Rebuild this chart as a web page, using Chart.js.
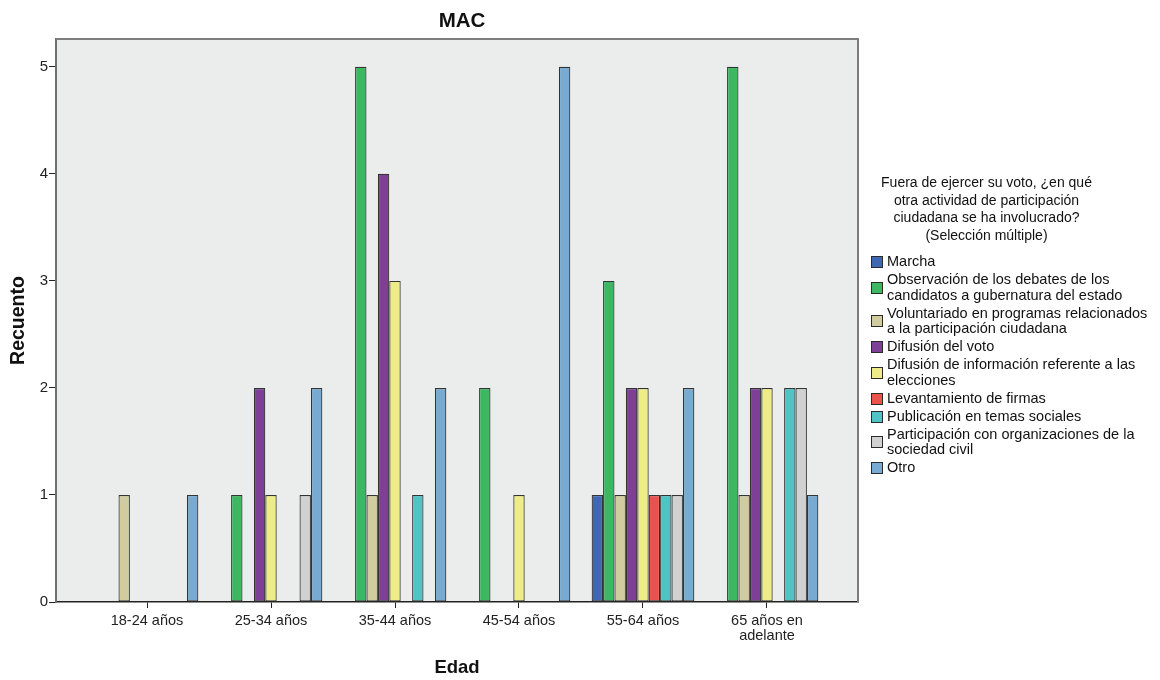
<!DOCTYPE html>
<html lang="es">
<head>
<meta charset="utf-8">
<script src="https://cdn.jsdelivr.net/npm/chart.js@4.4.1/dist/chart.umd.min.js"></script>
<style>
  body { margin: 0; background: #fff; font-family: "Liberation Sans", Arial, sans-serif; }
  #wrap { position: relative; width: 1160px; height: 680px; }
  #grafico { position: absolute; left: 0; top: 0; }
  .titulo { position: absolute; left: 362px; width: 200px; top: 7px; text-align: center; font-size: 20.5px; line-height: 25px; font-weight: bold; color: #111; }
  .leyenda { position: absolute; left: 868px; top: 174px; width: 290px; color: #111; }
  .leyenda-titulo { width: 237px; text-align: center; font-size: 14px; line-height: 17.6px; margin-bottom: 10px; }
  .item { display: flex; align-items: center; font-size: 14.5px; line-height: 15.5px; margin-bottom: 2.5px; }
  .cuadro { width: 10px; height: 10px; border: 1.5px solid #2a2a2a; margin: 0 4px 0 3px; flex: none; }
</style>
</head>
<body>
<div id="wrap">
  <canvas id="grafico" width="1160" height="680"></canvas>
  <div class="titulo">MAC</div>
  <div class="leyenda" id="leyenda">
    <div class="leyenda-titulo">Fuera de ejercer su voto, ¿en qué<br>otra actividad de participación<br>ciudadana se ha involucrado?<br>(Selección múltiple)</div>
  </div>
</div>
<script>
const edades = ["18-24 años", "25-34 años", "35-44 años", "45-54 años", "55-64 años", ["65 años en", "adelante"]];

const actividades = [
  "Marcha",
  "Observación de los debates de los\ncandidatos a gubernatura del estado",
  "Voluntariado en programas relacionados\na la participación ciudadana",
  "Difusión del voto",
  "Difusión de información referente a las\nelecciones",
  "Levantamiento de firmas",
  "Publicación en temas sociales",
  "Participación con organizaciones de la\nsociedad civil",
  "Otro"
];

const colores = ["#4067b1", "#3db761", "#d0cc9f", "#7e3f96", "#eeec86", "#e9534b", "#4ec5c4", "#d1d1d1", "#79aad1"];

// recuento por actividad, un valor por grupo de edad
const marcha = [0, 0, 0, 0, 1, 0];
const observacion = [0, 1, 5, 2, 3, 5];
const voluntariado = [1, 0, 1, 0, 1, 1];
const difusionVoto = [0, 2, 4, 0, 2, 2];
const difusionInfo = [0, 1, 3, 1, 2, 2];
const levantamiento = [0, 0, 0, 0, 1, 0];
const publicacion = [0, 0, 1, 0, 1, 2];
const participacion = [0, 1, 0, 0, 1, 2];
const otro = [1, 2, 2, 5, 2, 1];

const series = [marcha, observacion, voluntariado, difusionVoto, difusionInfo, levantamiento, publicacion, participacion, otro];
const yTicks = [0, 1, 2, 3, 4, 5];

const fuente = '"Liberation Sans", Arial, sans-serif';

// leyenda en HTML
const leyenda = document.getElementById("leyenda");
actividades.forEach((nombre, i) => {
  const item = document.createElement("div");
  item.className = "item";
  item.innerHTML = `<span class="cuadro" style="background:${colores[i]}"></span><span>${nombre.replace("\n", "<br>")}</span>`;
  leyenda.appendChild(item);
});

const fondoArea = {
  id: "fondoArea",
  beforeDraw(chart) {
    const { ctx, chartArea: a } = chart;
    ctx.save();
    ctx.fillStyle = "#ebedec";
    ctx.fillRect(a.left, a.top, a.right - a.left, a.bottom - a.top);
    ctx.restore();
  },
  afterDraw(chart) {
    const { ctx, chartArea: a } = chart;
    ctx.save();
    ctx.strokeStyle = "#7d7d7d";
    ctx.lineWidth = 2;
    ctx.beginPath();
    ctx.moveTo(a.left, a.top);
    ctx.lineTo(a.right, a.top);
    ctx.lineTo(a.right, a.bottom);
    ctx.stroke();
    ctx.restore();
  }
};

new Chart(document.getElementById("grafico"), {
  type: "bar",
  data: {
    datasets: series.map((valores, i) => ({
      label: actividades[i],
      data: valores.map((v, j) => ({ x: j, y: v })),
      backgroundColor: colores[i],
      borderColor: "#333",
      borderWidth: (c) => (c.raw && c.raw.y > 0 ? 1.2 : 0),
      borderSkipped: false,
      categoryPercentage: 0.828,
      barPercentage: 1
    }))
  },
  options: {
    responsive: false,
    animation: false,
    layout: { padding: { left: 0, right: 302, top: 39, bottom: 0 } },
    plugins: {
      legend: { display: false },
      tooltip: { enabled: false },
      title: { display: false }
    },
    scales: {
      x: {
        type: "linear",
        offset: false,
        min: -0.734,
        max: 5.734,
        afterBuildTicks: (s) => { s.ticks = edades.map((e, i) => ({ value: i })); },
        afterFit: (s) => { s.height = 78; },
        ticks: {
          autoSkip: false,
          maxRotation: 0,
          color: "#222",
          font: { family: fuente, size: 14.5, lineHeight: 1.05 },
          padding: 5,
          callback: (v) => edades[v]
        },
        grid: { offset: false, drawOnChartArea: false, drawTicks: true, tickLength: 6, color: "#222" },
        border: { display: true, color: "#222", width: 1.5 },
        title: {
          display: true,
          text: "Edad",
          color: "#111",
          font: { family: fuente, size: 18.5, weight: "bold" },
          padding: { top: 0, bottom: 1 }
        }
      },
      y: {
        min: 0,
        max: 5.26,
        afterBuildTicks: (s) => { s.ticks = yTicks.map((v) => ({ value: v })); },
        afterFit: (s) => { s.width = 56; },
        ticks: {
          color: "#222",
          font: { family: fuente, size: 15 },
          padding: 1
        },
        grid: { drawOnChartArea: false, drawTicks: true, tickLength: 7, color: "#222" },
        border: { display: true, color: "#6f6f6f", width: 2 },
        title: {
          display: true,
          text: "Recuento",
          color: "#111",
          font: { family: fuente, size: 19.5, weight: "bold" },
          padding: { top: 7, bottom: 0 }
        }
      }
    }
  },
  plugins: [fondoArea]
});
</script>
</body>
</html>
